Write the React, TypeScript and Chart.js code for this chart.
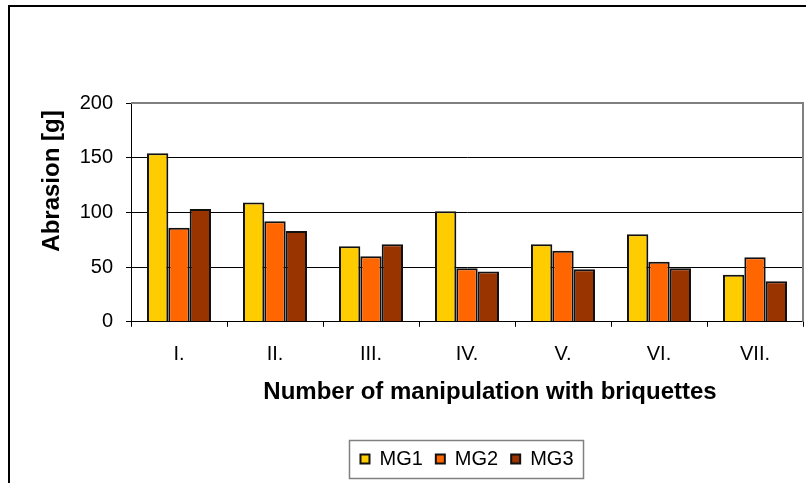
import React, { useEffect, useRef } from "react";
import { Chart, registerables } from "chart.js";

Chart.register(...registerables);

const categories = ["I.", "II.", "III.", "IV.", "V.", "VI.", "VII."];
const mg1 = [154, 109, 69, 101, 71, 80, 43];
const mg2 = [86, 92, 60, 49, 65, 55, 59];
const mg3 = [103, 83, 71, 46, 48, 49, 37];
const seriesNames = ["MG1", "MG2", "MG3"];
const seriesColors = ["#FFCC00", "#FF6600", "#993300"];
const yTitle = "Abrasion [g]";
const xTitle = "Number of manipulation with briquettes";

const FONT = "'Liberation Sans', Arial, sans-serif";

const decorPlugin = {
  id: "decor",
  afterDraw(chart: any) {
    const ctx = chart.ctx;
    const ca = chart.chartArea;
    ctx.save();
    // plot border top/right (gray)
    ctx.strokeStyle = "#808080";
    ctx.lineWidth = 2;
    ctx.beginPath();
    ctx.moveTo(ca.left, ca.top);
    ctx.lineTo(ca.right, ca.top);
    ctx.lineTo(ca.right, ca.bottom);
    ctx.stroke();
    // outer chart border (left/top)
    ctx.strokeStyle = "#000";
    ctx.lineWidth = 2;
    ctx.beginPath();
    ctx.moveTo(9, chart.height);
    ctx.lineTo(9, 6);
    ctx.lineTo(chart.width, 6);
    ctx.stroke();
    // axis titles
    ctx.fillStyle = "#000";
    ctx.font = `bold 24px ${FONT}`;
    ctx.textAlign = "center";
    ctx.textBaseline = "middle";
    ctx.fillText(xTitle, 490, 392);
    ctx.save();
    ctx.translate(52, 181);
    ctx.rotate(-Math.PI / 2);
    ctx.fillText(yTitle, 0, 0);
    ctx.restore();
    // legend frame
    const lg = chart.legend;
    if (lg && lg.legendHitBoxes && lg.legendHitBoxes.length) {
      const hb = lg.legendHitBoxes;
      const first = hb[0];
      const last = hb[hb.length - 1];
      const cy = first.top + first.height / 2;
      const l = first.left - 11;
      const r = last.left + last.width + 10;
      ctx.strokeStyle = "#808080";
      ctx.lineWidth = 1.5;
      ctx.strokeRect(l, cy - 18.5, r - l, 38);
    }
    ctx.restore();
  },
};

export default function App() {
  const ref = useRef<HTMLCanvasElement>(null);

  useEffect(() => {
    if (!ref.current) return;
    const data = [mg1, mg2, mg3];
    const chart = new Chart(ref.current, {
      type: "bar",
      data: {
        labels: categories,
        datasets: seriesNames.map((name, i) => ({
          label: name,
          data: data[i],
          backgroundColor: seriesColors[i],
          borderColor: "#111",
          borderWidth: 2,
          categoryPercentage: 0.667,
          barPercentage: 1,
        })),
      },
      options: {
        responsive: false,
        animation: false,
        layout: { padding: { left: 0, right: 3, top: 103, bottom: 4 } },
        plugins: {
          tooltip: { enabled: false },
          legend: {
            position: "bottom",
            fullSize: false,
            labels: {
              boxWidth: 9,
              boxHeight: 9,
              padding: 13,
              color: "#000",
              font: { family: FONT, size: 20 },
            },
          },
        },
        scales: {
          x: {
            afterFit(scale: any) {
              scale.height = 114.2;
            },
            grid: {
              drawOnChartArea: false,
              drawTicks: true,
              tickLength: 5,
              color: "#000",
            },
            border: { display: true, color: "#000", width: 1 },
            ticks: {
              color: "#000",
              padding: 16,
              font: { family: FONT, size: 20 },
            },
          },
          y: {
            min: 0,
            max: 200,
            afterFit(scale: any) {
              scale.width = 131;
            },
            grid: {
              drawOnChartArea: true,
              drawTicks: true,
              tickLength: 5,
              color: "#000",
            },
            border: { display: true, color: "#000", width: 1 },
            ticks: {
              stepSize: 50,
              color: "#000",
              padding: 13,
              font: { family: FONT, size: 20 },
            },
          },
        },
      },
      plugins: [decorPlugin],
    });
    return () => chart.destroy();
  }, []);

  return (
    <div style={{ position: "fixed", left: 0, top: 0, width: 806, height: 483, background: "#fff" }}>
      <canvas ref={ref} width={806} height={483} style={{ display: "block" }} />
    </div>
  );
}
